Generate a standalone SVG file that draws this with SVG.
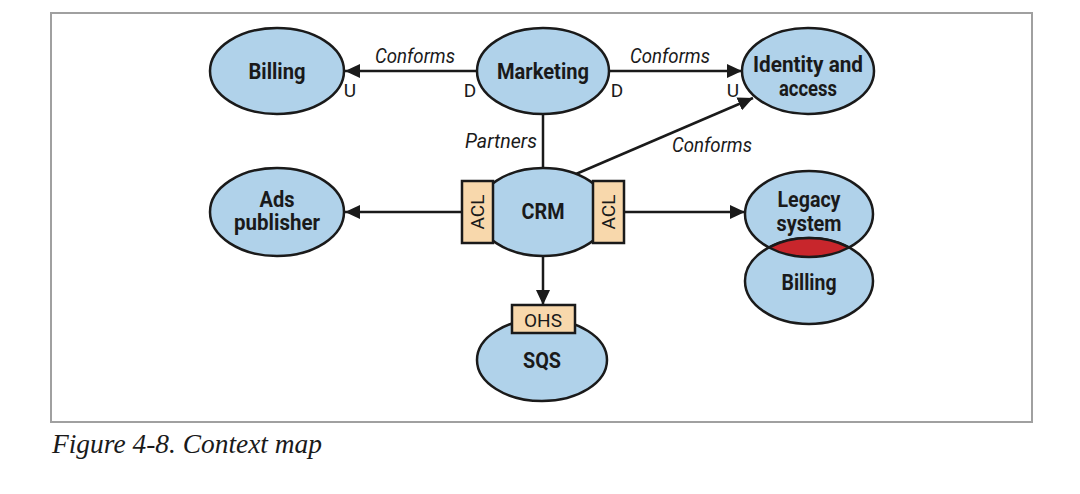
<svg xmlns="http://www.w3.org/2000/svg" width="1080" height="494" viewBox="0 0 1080 494">
<style>
.node{fill:#b0d2ea;stroke:#1a1a1a;stroke-width:2.5}
.box{fill:#f8d8ac;stroke:#1a1a1a;stroke-width:2.5}
.lbl{font-family:"Roboto","Liberation Sans",sans-serif;font-weight:bold;font-size:22px;fill:#1a1a1a;text-anchor:middle}
.rel{font-family:"Roboto","Liberation Sans",sans-serif;font-style:italic;font-size:21px;fill:#1a1a1a;text-anchor:middle}
.ud{font-family:"Roboto","Liberation Sans",sans-serif;font-size:19px;fill:#1a1a1a;text-anchor:middle}
.pat{font-family:"Roboto","Liberation Sans",sans-serif;font-size:19px;fill:#1a1a1a;text-anchor:middle}
.edge{stroke:#1a1a1a;stroke-width:2.5;fill:none}
</style>
<defs>
<marker id="arr" markerUnits="userSpaceOnUse" markerWidth="16" markerHeight="14" refX="15" refY="7" orient="auto">
<path d="M0,0 L15,7 L0,14 z" fill="#1a1a1a"/>
</marker>
</defs>
<rect x="51" y="13" width="981" height="409" fill="#ffffff" stroke="#a0a0a0" stroke-width="2"/>
<g id="connectors">
<line class="edge" x1="477" y1="71" x2="345" y2="71" marker-end="url(#arr)"/>
<line class="edge" x1="609" y1="71" x2="742" y2="71" marker-end="url(#arr)"/>
<line class="edge" x1="543" y1="114" x2="543" y2="170"/>
<line class="edge" x1="576" y1="174" x2="753" y2="98" marker-end="url(#arr)"/>
<line class="edge" x1="462" y1="212" x2="345" y2="212" marker-end="url(#arr)"/>
<line class="edge" x1="623" y1="212" x2="745" y2="212" marker-end="url(#arr)"/>
<line class="edge" x1="543" y1="256" x2="543" y2="305" marker-end="url(#arr)"/>
<text class="rel" x="415" y="63" textLength="80" lengthAdjust="spacingAndGlyphs">Conforms</text>
<text class="rel" x="670" y="63" textLength="80" lengthAdjust="spacingAndGlyphs">Conforms</text>
<text class="rel" x="712" y="152" textLength="80" lengthAdjust="spacingAndGlyphs">Conforms</text>
<text class="rel" x="501" y="148" textLength="72" lengthAdjust="spacingAndGlyphs">Partners</text>
<text class="ud" x="470" y="97">D</text>
<text class="ud" x="350" y="97">U</text>
<text class="ud" x="617" y="97">D</text>
<text class="ud" x="733" y="97">U</text>
</g>
<g id="billing">
<ellipse class="node" cx="277" cy="71" rx="67" ry="43"/>
<text class="lbl" x="277" y="79" textLength="57" lengthAdjust="spacingAndGlyphs">Billing</text>
</g>
<g id="marketing">
<ellipse class="node" cx="543" cy="71" rx="66" ry="43"/>
<text class="lbl" x="543" y="79" textLength="92" lengthAdjust="spacingAndGlyphs">Marketing</text>
</g>
<g id="identity">
<ellipse class="node" cx="808" cy="71" rx="66" ry="43"/>
<text class="lbl" x="808" y="72" textLength="110" lengthAdjust="spacingAndGlyphs">Identity and</text>
<text class="lbl" x="808" y="96" textLength="58" lengthAdjust="spacingAndGlyphs">access</text>
</g>
<g id="ads">
<ellipse class="node" cx="277" cy="212" rx="67" ry="44"/>
<text class="lbl" x="277" y="207" textLength="35" lengthAdjust="spacingAndGlyphs">Ads</text>
<text class="lbl" x="277" y="230" textLength="86" lengthAdjust="spacingAndGlyphs">publisher</text>
</g>
<g id="crm">
<ellipse class="node" cx="543" cy="212" rx="66" ry="44"/>
<text class="lbl" x="543" y="219" textLength="43" lengthAdjust="spacingAndGlyphs">CRM</text>
<rect class="box" x="462" y="181" width="31" height="62"/>
<text class="pat" transform="translate(484,212) rotate(-90)" x="0" y="0" textLength="35" lengthAdjust="spacingAndGlyphs">ACL</text>
<rect class="box" x="593" y="181" width="31" height="62"/>
<text class="pat" transform="translate(615,212) rotate(-90)" x="0" y="0" textLength="35" lengthAdjust="spacingAndGlyphs">ACL</text>
</g>
<g id="sqs">
<ellipse class="node" cx="542" cy="360" rx="65" ry="41"/>
<text class="lbl" x="542" y="368" textLength="38" lengthAdjust="spacingAndGlyphs">SQS</text>
<rect class="box" x="512" y="305" width="63" height="28"/>
<text class="pat" x="543" y="327" textLength="38" lengthAdjust="spacingAndGlyphs">OHS</text>
</g>
<g id="legacy">
<ellipse class="node" cx="809" cy="214" rx="64" ry="43"/>
<ellipse class="node" cx="809" cy="281" rx="64" ry="43"/>
<path d="M769,247.5 A64,43 0 0 1 849,247.5 A64,43 0 0 1 769,247.5 z" fill="#c8262c" stroke="#1a1a1a" stroke-width="2.5"/>
<text class="lbl" x="809" y="207" textLength="63" lengthAdjust="spacingAndGlyphs">Legacy</text>
<text class="lbl" x="809" y="231" textLength="65" lengthAdjust="spacingAndGlyphs">system</text>
<text class="lbl" x="809" y="290" textLength="55" lengthAdjust="spacingAndGlyphs">Billing</text>
</g>
<text x="52" y="453" font-family="Liberation Serif, serif" font-style="italic" font-size="27" fill="#1a1a1a" textLength="270" lengthAdjust="spacingAndGlyphs">Figure 4-8. Context map</text>
</svg>
